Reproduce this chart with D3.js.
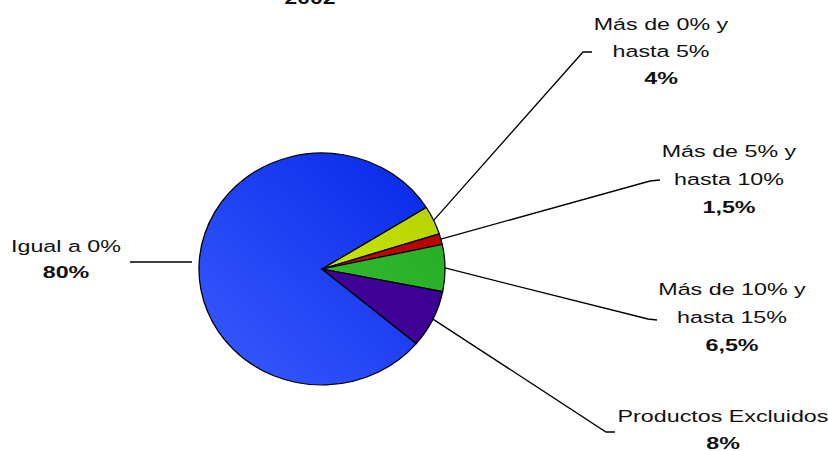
<!DOCTYPE html>
<html>
<head>
<meta charset="utf-8">
<script src="https://cdn.jsdelivr.net/npm/d3@7"></script>
<style>
  html, body { margin: 0; padding: 0; background: #fff; }
  svg { display: block; }
  text { font-family: Arial, "Liberation Sans", sans-serif; fill: #111; }
</style>
</head>
<body>
<div id="chart"></div>
<script>
// Data
const title = '2002';
const categories = ['Igual a 0%', 'Más de 0% y hasta 5%', 'Más de 5% y hasta 10%', 'Más de 10% y hasta 15%', 'Productos Excluidos'];
const labelLines = [['Igual a 0%'], ['Más de 0% y', 'hasta 5%'], ['Más de 5% y', 'hasta 10%'], ['Más de 10% y', 'hasta 15%'], ['Productos Excluidos']];
const values = [80, 4, 1.5, 6.5, 8];
const valueLabels = ['80%', '4%', '1,5%', '6,5%', '8%'];

const width = 829, height = 451;
const cx = 322, cy = 269, rx = 123, ry = 116;

// slice colours: [light, dark] for a soft gradient
const colors = [
    ['#3a5cff', '#0526e6'],
    ['#e0ff10', '#b0cc00'],
    ['#dd0a0a', '#b00000'],
    ['#3cc83c', '#22a822'],
    ['#4a06a8', '#360088']
];

// label placement: text centre x, first baseline, line step, leader line end points
const labelPos = [
    { x: 66, y: 252, step: 26, line: [[192, 262], [130, 262]] },
    { x: 661, y: 30, step: 27, line: [[592, 52], [583, 52]] },
    { x: 729, y: 157, step: 28, line: [[660, 180], [650, 181]] },
    { x: 732, y: 295, step: 28, line: [[657, 320], [648, 319]] },
    { x: 723, y: 422, step: 27, line: [[615, 432], [606, 432]] }
];

const svg = d3.select('#chart').append('svg')
    .attr('width', width)
    .attr('height', height);

const defs = svg.append('defs');
colors.forEach((c, i) => {
    const g = defs.append('linearGradient')
        .attr('id', `grad-${i}`)
        .attr('gradientUnits', 'userSpaceOnUse')
        .attr('x1', -rx).attr('y1', rx)
        .attr('x2', rx).attr('y2', -rx);
    g.append('stop').attr('offset', '0%').attr('stop-color', c[0]);
    g.append('stop').attr('offset', '100%').attr('stop-color', c[1]);
});

const pie = d3.pie()
    .sort(null)
    .value(d => d)
    .startAngle(130 * Math.PI / 180)
    .endAngle(130 * Math.PI / 180 + 2 * Math.PI);

const arcs = pie(values);
const arc = d3.arc().innerRadius(0).outerRadius(rx);

const pieG = svg.append('g')
    .attr('transform', `translate(${cx},${cy}) scale(1,${ry / rx})`);

pieG.selectAll('path')
    .data(arcs)
    .enter()
    .append('path')
    .attr('d', arc)
    .attr('fill', (d, i) => `url(#grad-${i})`)
    .attr('stroke', '#000')
    .attr('stroke-width', 1.3)
    .attr('stroke-linejoin', 'round');

// leader lines from slice edge to label (the big slice only has a short stub)
function edgePoint(d) {
    const a = (d.startAngle + d.endAngle) / 2;
    return [cx + rx * Math.sin(a), cy - ry * Math.cos(a)];
}

svg.append('g').selectAll('polyline')
    .data(arcs)
    .enter()
    .append('polyline')
    .attr('points', (d, i) => {
        const pts = labelPos[i].line.slice().reverse();
        if (i > 0) pts.unshift(edgePoint(d));
        return pts.map(p => p.join(',')).join(' ');
    })
    .attr('fill', 'none')
    .attr('stroke', '#000')
    .attr('stroke-width', 1.3);

// labels
const labels = svg.append('g').selectAll('g')
    .data(categories)
    .enter()
    .append('g')
    .attr('transform', (d, i) => `translate(${labelPos[i].x},0) scale(1.37,1)`);

labels.each(function(d, i) {
    const g = d3.select(this);
    const lp = labelPos[i];
    labelLines[i].forEach((t, k) => {
        g.append('text')
            .attr('x', 0)
            .attr('y', lp.y + k * lp.step)
            .attr('text-anchor', 'middle')
            .attr('font-size', '17px')
            .text(t);
    });
    g.append('text')
        .attr('x', 0)
        .attr('y', lp.y + labelLines[i].length * lp.step)
        .attr('text-anchor', 'middle')
        .attr('font-size', '17px')
        .attr('font-weight', 'bold')
        .text(valueLabels[i]);
});

// title, mostly cut off at the top as in the source image
svg.append('text')
    .attr('transform', 'translate(310,4) scale(1.35,1)')
    .attr('text-anchor', 'middle')
    .attr('font-size', '17px')
    .attr('font-weight', 'bold')
    .text(title);
</script>
</body>
</html>
